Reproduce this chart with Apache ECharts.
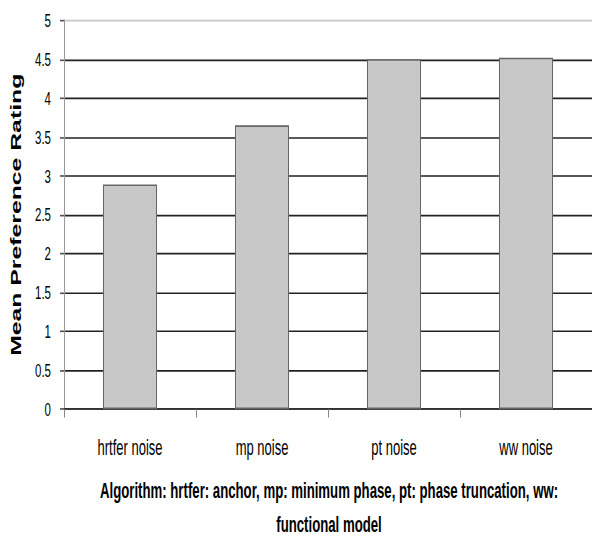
<!DOCTYPE html>
<html>
<head>
<meta charset="utf-8">
<script src="https://cdn.jsdelivr.net/npm/echarts@6/dist/echarts.min.js"></script>
<style>
html,body{margin:0;padding:0;background:#fff;overflow:hidden;width:592px;height:537px;}
#chart{width:592px;height:325px;transform:scaleY(1.6523);transform-origin:0 0;}
</style>
</head>
<body>
<div id="chart"></div>
<script>
const categories = ['hrtfer noise', 'mp noise', 'pt noise', 'ww noise'];
const meanRatings = [2.89, 3.65, 4.50, 4.52];
const yTitle = 'Mean Preference Rating';
const xTitleLine1 = 'Algorithm: hrtfer: anchor, mp: minimum phase, pt: phase truncation, ww:';
const xTitleLine2 = 'functional model';

const FONT = "'Liberation Sans', Arial, sans-serif";
const gridColors = ['#222','#222','#222','#222','#222','#222','#222','#222','#222','#222','#c8c8c8'];

const chart = echarts.init(document.getElementById('chart'), null, {renderer: 'svg'});
chart.setOption({
  backgroundColor: '#fff',
  animation: false,
  title: {
    text: xTitleLine1,
    subtext: xTitleLine2,
    left: 329,
    textAlign: 'center',
    top: 289.7,
    padding: 0,
    itemGap: 7,
    textStyle: {fontFamily: FONT, fontSize: 13.2, fontWeight: 'bold', color: '#000', lineHeight: 15},
    subtextStyle: {fontFamily: FONT, fontSize: 13.2, fontWeight: 'bold', color: '#000', lineHeight: 12}
  },
  grid: {left: 60, top: 12.3, width: 538.4, height: 235.4, containLabel: false},
  xAxis: {
    type: 'category',
    data: categories,
    axisLine: {lineStyle: {color: '#333', width: 1}},
    axisTick: {show: true, length: 5, lineStyle: {color: '#888'}},
    axisLabel: {fontFamily: FONT, fontSize: 13, color: '#000', margin: 17}
  },
  yAxis: {
    type: 'value',
    min: 0, max: 5, interval: 0.5,
    name: yTitle,
    nameLocation: 'middle',
    nameRotate: 90,
    nameGap: 41,
    nameTextStyle: {fontFamily: FONT, fontSize: 15, fontWeight: 'bold', color: '#000'},
    axisLine: {show: true, lineStyle: {color: '#999', width: 1}},
    axisTick: {show: true, length: 4, lineStyle: {color: '#555'}},
    axisLabel: {fontFamily: FONT, fontSize: 11.5, color: '#000', margin: 13},
    splitLine: {show: true, lineStyle: {color: gridColors, width: 1}}
  },
  series: [{
    type: 'bar',
    data: meanRatings,
    barWidth: 54,
    itemStyle: {color: '#c8c8c8', borderColor: '#666', borderWidth: 1}
  }]
});
</script>
</body>
</html>
